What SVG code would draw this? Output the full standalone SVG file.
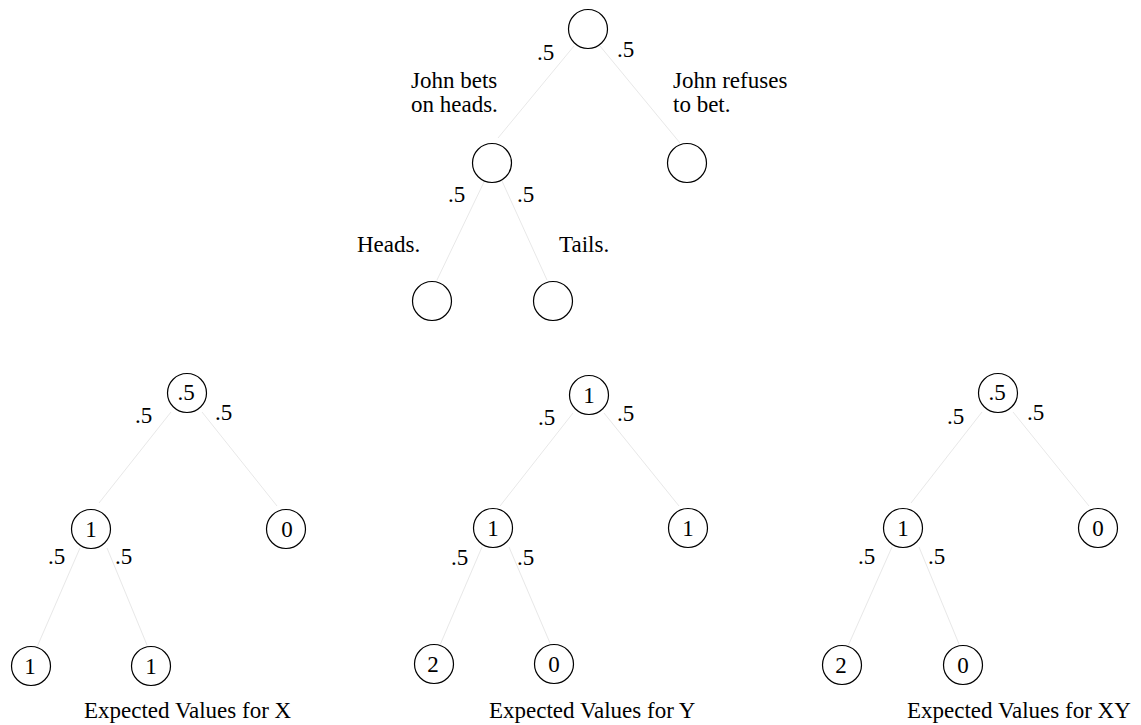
<svg xmlns="http://www.w3.org/2000/svg" width="1141" height="725" viewBox="0 0 1141 725">
<style>
  text { font-family: "Liberation Serif", "Times New Roman", serif; font-size: 23px; fill: #000; }
  .nl { text-anchor: middle; }
  circle { fill: #fff; stroke: #000; stroke-width: 1.2; }
  .edge { stroke: #e8e8e8; stroke-width: 1; fill: none; }
</style>
<rect width="1141" height="725" fill="#fff"/>

<g id="connectors">
  <!-- top tree -->
  <line class="edge" x1="574" y1="46" x2="498" y2="138"/>
  <line class="edge" x1="600" y1="46" x2="680" y2="143"/>
  <line class="edge" x1="484" y1="182" x2="437" y2="280"/>
  <line class="edge" x1="502" y1="181" x2="547" y2="280"/>
  <!-- X tree -->
  <line class="edge" x1="171" y1="412" x2="99" y2="503"/>
  <line class="edge" x1="202" y1="412" x2="277" y2="506"/>
  <line class="edge" x1="80" y1="548" x2="37" y2="647"/>
  <line class="edge" x1="107" y1="548" x2="147" y2="645"/>
  <!-- Y tree -->
  <line class="edge" x1="573" y1="413" x2="500" y2="506"/>
  <line class="edge" x1="604" y1="413" x2="679" y2="506"/>
  <line class="edge" x1="482" y1="547" x2="440" y2="645"/>
  <line class="edge" x1="509" y1="547" x2="550" y2="643"/>
  <!-- XY tree -->
  <line class="edge" x1="982" y1="412" x2="911" y2="503"/>
  <line class="edge" x1="1013" y1="412" x2="1089" y2="506"/>
  <line class="edge" x1="892" y1="547" x2="848" y2="646"/>
  <line class="edge" x1="919" y1="547" x2="959" y2="644"/>
</g>

<!-- Top tree -->
<g id="t-root"><circle cx="588" cy="29" r="19.5"/></g>
<g id="t-bet"><circle cx="492" cy="163" r="19.5"/></g>
<g id="t-refuse"><circle cx="687" cy="163" r="19.5"/></g>
<g id="t-heads"><circle cx="432" cy="301" r="19.5"/></g>
<g id="t-tails"><circle cx="553" cy="301" r="19.5"/></g>
<g id="t-labels">
  <text x="537" y="60">.5</text>
  <text x="617" y="57">.5</text>
  <text x="411" y="88">John bets</text>
  <text x="411" y="112">on heads.</text>
  <text x="673" y="88">John refuses</text>
  <text x="673" y="112">to bet.</text>
  <text x="448" y="202">.5</text>
  <text x="517" y="202">.5</text>
  <text x="357" y="252">Heads.</text>
  <text x="559" y="252">Tails.</text>
</g>

<!-- X tree -->
<g id="x-root"><circle cx="187" cy="393" r="19.5"/><text class="nl" x="186" y="400">.5</text></g>
<g id="x-bet"><circle cx="91" cy="529" r="19.5"/><text class="nl" x="91" y="537">1</text></g>
<g id="x-refuse"><circle cx="286" cy="529" r="19.5"/><text class="nl" x="287" y="537">0</text></g>
<g id="x-heads"><circle cx="31" cy="666" r="19.5"/><text class="nl" x="30" y="674">1</text></g>
<g id="x-tails"><circle cx="151" cy="666" r="19.5"/><text class="nl" x="151" y="674">1</text></g>
<g id="x-labels">
  <text x="135" y="423">.5</text>
  <text x="215" y="420">.5</text>
  <text x="48" y="564">.5</text>
  <text x="115" y="564">.5</text>
  <text x="84" y="718">Expected Values for X</text>
</g>

<!-- Y tree -->
<g id="y-root"><circle cx="589" cy="395" r="19.5"/><text class="nl" x="589" y="403">1</text></g>
<g id="y-bet"><circle cx="493" cy="528" r="19.5"/><text class="nl" x="493" y="536">1</text></g>
<g id="y-refuse"><circle cx="688" cy="528" r="19.5"/><text class="nl" x="688" y="536">1</text></g>
<g id="y-heads"><circle cx="434" cy="664" r="19.5"/><text class="nl" x="433" y="672">2</text></g>
<g id="y-tails"><circle cx="554" cy="664" r="19.5"/><text class="nl" x="554" y="672">0</text></g>
<g id="y-labels">
  <text x="538" y="425">.5</text>
  <text x="617" y="421">.5</text>
  <text x="451" y="565">.5</text>
  <text x="517" y="565">.5</text>
  <text x="489" y="718">Expected Values for Y</text>
</g>

<!-- XY tree -->
<g id="xy-root"><circle cx="998" cy="393" r="19.5"/><text class="nl" x="997" y="400">.5</text></g>
<g id="xy-bet"><circle cx="903" cy="528" r="19.5"/><text class="nl" x="903" y="536">1</text></g>
<g id="xy-refuse"><circle cx="1098" cy="528" r="19.5"/><text class="nl" x="1098" y="536">0</text></g>
<g id="xy-heads"><circle cx="842" cy="665" r="19.5"/><text class="nl" x="841" y="673">2</text></g>
<g id="xy-tails"><circle cx="963" cy="665" r="19.5"/><text class="nl" x="963" y="673">0</text></g>
<g id="xy-labels">
  <text x="947" y="424">.5</text>
  <text x="1027" y="420">.5</text>
  <text x="858" y="564">.5</text>
  <text x="928" y="564">.5</text>
  <text x="907" y="718">Expected Values for XY</text>
</g>
</svg>
